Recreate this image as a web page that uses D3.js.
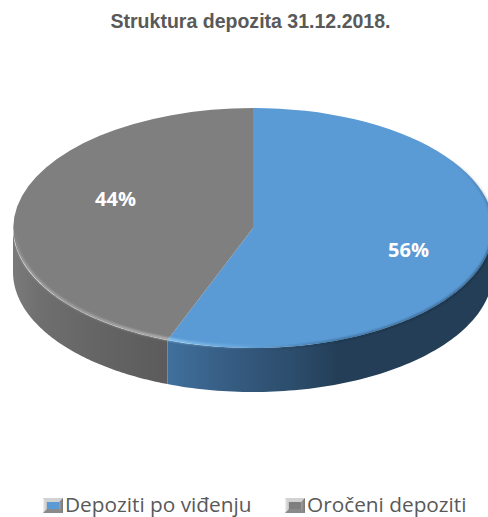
<!DOCTYPE html>
<html><head><meta charset="utf-8">
<script src="https://cdnjs.cloudflare.com/ajax/libs/d3/7.8.5/d3.min.js"></script>
<style>html,body{margin:0;padding:0;background:#fff;overflow:hidden}svg{display:block}</style>
</head><body><svg id="c" width="488" height="517"></svg>
<script>
const title = "Struktura depozita 31.12.2018.";
const categories = ["Depoziti po viđenju", "Oročeni depoziti"];
const values = [55.8, 44.2];
const colors = ["#5b9bd5", "#7f7f7f"];

const W = 488, H = 517, cx = 253, cy = 228, rx = 240, ry = 120, depth = 44;
const svg = d3.select("#c");
const defs = svg.append("defs");

function grad(id, stops) {
  const g = defs.append("linearGradient").attr("id", id).attr("gradientUnits", "userSpaceOnUse")
    .attr("x1", cx - rx).attr("x2", cx + rx).attr("y1", 0).attr("y2", 0);
  stops.forEach(s => g.append("stop").attr("offset", (s[0] - (cx - rx)) / (2 * rx)).attr("stop-color", s[1]).attr("stop-opacity", s[2] === undefined ? 1 : s[2]));
}
grad("side0", [[168, "#40709d"], [230, "#365c82"], [300, "#2b4b69"], [340, "#233e56"], [493, "#233e56"]]);
grad("side1", [[13, "#7a7a7a"], [40, "#6f6f6f"], [90, "#666666"], [168, "#5b5b5b"]]);
grad("hi", [[13, "#ffffff", .15], [28, "#ffffff", .3], [75, "#ffffff", .3], [130, "#ffffff", .38], [168, "#ffffff", .42], [169, "#a5dcff", .7], [210, "#a5dcff", .35], [260, "#a5dcff", .1], [320, "#a5dcff", 0], [493, "#a5dcff", 0]]);
grad("lo", [[250, "#10283c", 0], [340, "#10283c", .45], [470, "#10283c", .6], [493, "#10283c", .6]]);

const fade = defs.append("linearGradient").attr("id", "fadeV").attr("gradientUnits", "userSpaceOnUse")
  .attr("x1", 0).attr("x2", 0).attr("y1", cy - 70).attr("y2", cy + 10);
fade.append("stop").attr("offset", 0).attr("stop-color", "#000");
fade.append("stop").attr("offset", 1).attr("stop-color", "#fff");
defs.append("mask").attr("id", "lowerMask").attr("maskUnits", "userSpaceOnUse")
  .attr("x", 0).attr("y", 0).attr("width", W).attr("height", H)
  .append("rect").attr("width", W).attr("height", H).attr("fill", "url(#fadeV)");

const fadeH = defs.append("linearGradient").attr("id", "fadeHi").attr("gradientUnits", "userSpaceOnUse")
  .attr("x1", 0).attr("x2", 0).attr("y1", cy).attr("y2", cy + 22);
fadeH.append("stop").attr("offset", 0).attr("stop-color", "#000");
fadeH.append("stop").attr("offset", 1).attr("stop-color", "#fff");
defs.append("mask").attr("id", "hiMask").attr("maskUnits", "userSpaceOnUse")
  .attr("x", 0).attr("y", 0).attr("width", W).attr("height", H)
  .append("rect").attr("width", W).attr("height", H).attr("fill", "url(#fadeHi)");

defs.append("filter").attr("id", "b1").attr("x", "-5%").attr("y", "-5%").attr("width", "110%").attr("height", "110%")
  .append("feGaussianBlur").attr("stdDeviation", 1.1);

const pie = d3.pie().sort(null).value(d => d);
const arcs = pie(values);
const arc = d3.arc().innerRadius(0).outerRadius(1);

const px = a => cx + rx * Math.sin(a), py = a => cy - ry * Math.cos(a);
function sidePath(a0, a1) {
  const s = Math.max(a0, Math.PI / 2), e = Math.min(a1, 3 * Math.PI / 2);
  if (e <= s) return "";
  const p = d3.path();
  p.moveTo(px(s), py(s));
  p.lineTo(px(s), py(s) + depth);
  const n = 90;
  for (let i = 1; i <= n; i++) { const a = s + (e - s) * i / n; p.lineTo(px(a), py(a) + depth); }
  p.lineTo(px(e), py(e));
  for (let i = n - 1; i >= 0; i--) { const a = s + (e - s) * i / n; p.lineTo(px(a), py(a)); }
  p.closePath();
  return p.toString();
}
svg.append("g").selectAll("path").data(arcs).join("path")
  .attr("d", d => sidePath(d.startAngle, d.endAngle))
  .attr("fill", (d, i) => `url(#side${i})`);

svg.append("g").attr("transform", `translate(${cx},${cy}) scale(${rx},${ry})`)
  .selectAll("path").data(arcs).join("path")
  .attr("d", arc).attr("fill", (d, i) => colors[i]);

const rim = svg.append("g");
rim.append("g").attr("mask", "url(#hiMask)").append("ellipse")
  .attr("cx", cx).attr("cy", cy).attr("rx", rx - 1).attr("ry", ry - 1)
  .attr("fill", "none").attr("stroke", "url(#hi)").attr("stroke-width", 2.6).attr("filter", "url(#b1)");
rim.append("g").attr("mask", "url(#lowerMask)").append("ellipse")
  .attr("cx", cx).attr("cy", cy).attr("rx", rx).attr("ry", ry)
  .attr("fill", "none").attr("stroke", "url(#lo)").attr("stroke-width", 2).attr("filter", "url(#b1)");

svg.append("text").attr("x", 250.5).attr("y", 28).attr("text-anchor", "middle")
  .attr("font-family", "Liberation Sans").attr("font-weight", 700).attr("font-size", 20.5)
  .attr("textLength", 280).attr("lengthAdjust", "spacingAndGlyphs").attr("fill", "#595959").text(title);

const labelPos = [[408.5, 256.5], [115.5, 205.5]];
svg.append("g").selectAll("text").data(values).join("text")
  .attr("x", (d, i) => labelPos[i][0]).attr("y", (d, i) => labelPos[i][1])
  .attr("text-anchor", "middle").attr("font-family", "Open Sans").attr("font-weight", 700)
  .attr("font-size", 20).attr("fill", "#fff").text(d => d3.format(".0f")(d) + "%");

const legendX = [43, 285], legendT = [65, 307];
const lg = svg.append("g");
const sg = defs.append("linearGradient").attr("id", "swatch");
[[0, "#f2f2f2"], [.18, "#c4c4c4"], [.8, "#a0a0a0"], [1, "#777777"]].forEach(s => sg.append("stop").attr("offset", s[0]).attr("stop-color", s[1]));
categories.forEach((c, i) => {
  const x = legendX[i], y = 498, w = 20, h = 15, d = 4;
  const g = lg.append("g");
  g.append("rect").attr("x", x).attr("y", y).attr("width", w).attr("height", h).attr("fill", "url(#swatch)");
  g.append("path").attr("d", `M${x},${y + h}L${x + d},${y + h - d}H${x + w - d}L${x + w},${y + h}Z`).attr("fill", "#8a8a8a");
  g.append("path").attr("d", `M${x},${y}L${x + d},${y + d}H${x + w - d}L${x + w},${y}Z`).attr("fill", "#d2d2d2");
  g.append("rect").attr("x", x + d).attr("y", y + d).attr("width", w - 2 * d).attr("height", h - 2 * d).attr("fill", colors[i]);
  lg.append("text").attr("x", legendT[i]).attr("y", 512).attr("font-family", "Open Sans")
    .attr("font-size", 20.8).attr("fill", "#595959").text(c);
});
</script></body></html>
